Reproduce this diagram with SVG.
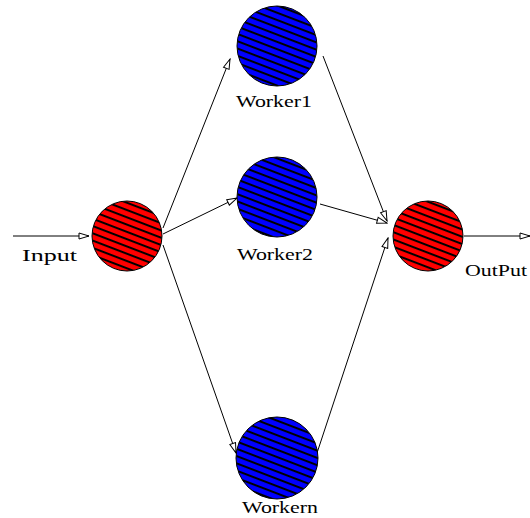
<svg xmlns="http://www.w3.org/2000/svg" width="530" height="518" viewBox="0 0 530 518">
  <defs>
    <!-- diagonal hatching over a solid fill -->
    <pattern id="hatchRed" patternUnits="userSpaceOnUse" width="12" height="6.8" patternTransform="rotate(21)">
      <rect width="12" height="6.8" fill="#ff0000"/>
      <line x1="0" y1="1" x2="12" y2="1" stroke="#000" stroke-width="2"/>
    </pattern>
    <pattern id="hatchBlue" patternUnits="userSpaceOnUse" width="12" height="6.8" patternTransform="rotate(21)">
      <rect width="12" height="6.8" fill="#0000ff"/>
      <line x1="0" y1="1" x2="12" y2="1" stroke="#000" stroke-width="2"/>
    </pattern>
    <marker id="arrow" viewBox="0 0 12 8" refX="11" refY="4" markerWidth="12" markerHeight="8" markerUnits="userSpaceOnUse" orient="auto">
      <path d="M1,1 L11,4 L1,7 Z" fill="#fff" stroke="#000" stroke-width="1"/>
    </marker>
    <style>
      .conn { stroke: #000; stroke-width: 1; fill: none; marker-end: url(#arrow); }
      .node { stroke: #000; stroke-width: 1; }
      .lbl { font-family: "Liberation Serif", "DejaVu Serif", serif; font-size: 17px; fill: #000; }
    </style>
  </defs>

  <rect width="530" height="518" fill="#fff"/>

  <g id="connectors">
    <line class="conn" x1="13" y1="236" x2="89" y2="236"/>
    <line class="conn" x1="163" y1="228" x2="230" y2="59"/>
    <line class="conn" x1="163" y1="234" x2="237" y2="198"/>
    <line class="conn" x1="163" y1="245" x2="236" y2="453"/>
    <line class="conn" x1="323" y1="56" x2="387" y2="221"/>
    <line class="conn" x1="320" y1="204" x2="387" y2="223"/>
    <line class="conn" x1="317" y1="453" x2="388" y2="238"/>
    <line class="conn" x1="464" y1="236" x2="530" y2="236"/>
  </g>

  <g id="input">
    <circle class="node" cx="127" cy="236" r="35" fill="url(#hatchRed)"/>
    <text class="lbl" x="22" y="261" textLength="55" lengthAdjust="spacingAndGlyphs">Input</text>
  </g>

  <g id="worker1">
    <circle class="node" cx="277" cy="46" r="40" fill="url(#hatchBlue)"/>
    <text class="lbl" x="236" y="107" textLength="76" lengthAdjust="spacingAndGlyphs">Worker1</text>
  </g>

  <g id="worker2">
    <circle class="node" cx="277" cy="197" r="40" fill="url(#hatchBlue)"/>
    <text class="lbl" x="237" y="260" textLength="76" lengthAdjust="spacingAndGlyphs">Worker2</text>
  </g>

  <g id="workern">
    <circle class="node" cx="277" cy="458" r="41" fill="url(#hatchBlue)"/>
    <text class="lbl" x="242" y="513" textLength="76" lengthAdjust="spacingAndGlyphs">Workern</text>
  </g>

  <g id="output">
    <circle class="node" cx="428" cy="236" r="35" fill="url(#hatchRed)"/>
    <text class="lbl" x="465" y="276" textLength="62" lengthAdjust="spacingAndGlyphs">OutPut</text>
  </g>
</svg>
